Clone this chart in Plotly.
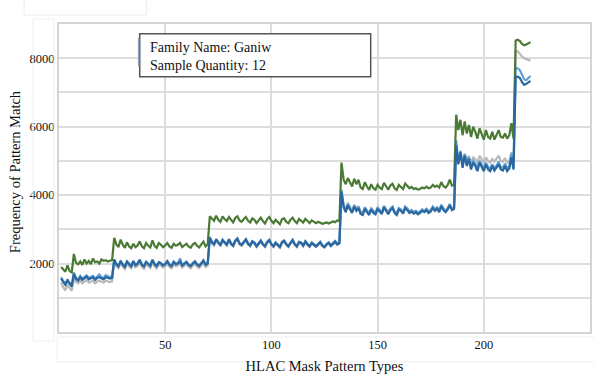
import plotly.graph_objects as go

# ---- data ----
green = [
    1900, 1820, 1760, 1950, 1780, 1740, 2280, 2020, 1980, 2060, 1960, 2120, 2000, 2080, 1980, 2150, 2040, 2060, 2000, 2120, 2080, 2100, 2060, 2080, 2100,
    2750, 2560, 2480, 2700, 2550, 2460, 2620, 2500, 2450, 2580, 2480, 2530, 2650, 2500, 2450, 2600, 2520, 2470, 2680, 2520,
    2460, 2600, 2550, 2480, 2530, 2600, 2500, 2460, 2580, 2520, 2550, 2600, 2480, 2520, 2580, 2500, 2460, 2560, 2600, 2520,
    2470, 2560, 2640, 2500, 2560,
    3380, 3300, 3250, 3400, 3280, 3220, 3380, 3300, 3240, 3360, 3260, 3200, 3340, 3380, 3260, 3220, 3300, 3360, 3250, 3200,
    3320, 3280, 3180, 3260, 3340, 3240, 3170, 3300, 3360, 3250, 3180, 3280, 3200, 3150, 3300, 3320, 3220, 3180, 3280, 3340,
    3240, 3180, 3300, 3260, 3200, 3310, 3240, 3180, 3260, 3220, 3180, 3220, 3200, 3160, 3180, 3200, 3170, 3190, 3230, 3210,
    3260, 3240,
    4950, 4450, 4320, 4500, 4380, 4250, 4480, 4320, 4450, 4220, 4180, 4380, 4250, 4150, 4320, 4200, 4160, 4300, 4220, 4180,
    4360, 4250, 4160, 4280, 4330, 4200, 4150, 4300, 4250, 4180, 4340, 4280, 4200, 4240, 4180, 4200, 4160, 4180, 4220, 4200,
    4250, 4200, 4220, 4300, 4240, 4280, 4220, 4380, 4260, 4220, 4300, 4450, 4280, 4300,
    6350, 5900, 6200, 5750, 6150, 5800, 6050, 5700, 6000, 5850, 5650, 5950, 5800, 5620, 5900, 5700, 5650, 5850, 5620, 5750,
    5900, 5700, 5680, 5800, 5650, 5750, 6100, 5650,
    8520, 8540, 8500, 8420, 8380, 8400, 8440, 8470,
]

dark_blue = [
    1560, 1450, 1380, 1500, 1400, 1330, 1700, 1550, 1500, 1600, 1520, 1580, 1620, 1540, 1560, 1600, 1520, 1580, 1600, 1560, 1540, 1600, 1580, 1560, 1580,
    2120, 1980, 1920, 2080, 1960, 1900, 2050, 1980, 1920, 2060, 1950, 1990, 2100, 1960, 1910, 2040, 1980, 1930, 2100, 1980,
    1920, 2030, 2000, 1940, 1980, 2060, 1960, 1920, 2040, 1980, 2000, 2060, 1940, 1980, 2040, 1960, 1920, 2000, 2050, 1970,
    1930, 2000, 2080, 1960, 2000,
    2750, 2620, 2560, 2700, 2600, 2540, 2680, 2600, 2550, 2700, 2580, 2520, 2660, 2720, 2580, 2540, 2640, 2700, 2580, 2520,
    2640, 2600, 2500, 2580, 2660, 2560, 2500, 2620, 2680, 2560, 2500, 2600, 2540, 2480, 2620, 2660, 2560, 2500, 2600, 2680,
    2560, 2500, 2620, 2600, 2520, 2640, 2560, 2500, 2600, 2540, 2500, 2560, 2620, 2520, 2480, 2560, 2600, 2520, 2580, 2640,
    2560, 2600,
    4100, 3650, 3500, 3700, 3580, 3480, 3660, 3540, 3620, 3450, 3420, 3600, 3500, 3420, 3580, 3480, 3440, 3600, 3520, 3450,
    3640, 3540, 3440, 3560, 3620, 3480, 3420, 3580, 3540, 3460, 3620, 3560, 3480, 3520, 3460, 3500, 3440, 3480, 3540, 3500,
    3560, 3480, 3520, 3620, 3540, 3600, 3500, 3680, 3560, 3500, 3580, 3700, 3560, 3600,
    5450, 4900, 5250, 4800, 5150, 4850, 5050, 4750, 4950, 4850, 4700, 4950, 4800, 4700, 4900, 4750, 4700, 4850, 4720, 4800,
    4900, 4750, 4720, 4850, 4700, 4780, 5100, 4750,
    7450, 7460, 7420, 7300, 7220, 7250, 7300, 7340,
]

light_blue = [
    1600, 1480, 1420, 1540, 1440, 1380, 1740, 1580, 1540, 1640, 1560, 1600, 1660, 1580, 1600, 1640, 1560, 1620, 1680, 1600, 1580, 1660, 1620, 1600, 1640,
    2100, 2000, 1940, 2060, 1980, 1920, 2070, 2000, 1940, 2080, 1970, 2010, 2120, 1980, 1930, 2060, 2000, 1950, 2120, 2000,
    1940, 2050, 2020, 1960, 2000, 2080, 1980, 1940, 2060, 2000, 2020, 2150, 1960, 2000, 2060, 1980, 1940, 2020, 2070, 1990,
    1950, 2020, 2100, 1980, 2020,
    2780, 2640, 2580, 2720, 2620, 2560, 2700, 2620, 2560, 2720, 2600, 2540, 2680, 2740, 2600, 2560, 2660, 2720, 2600, 2540,
    2660, 2620, 2520, 2600, 2680, 2580, 2520, 2640, 2700, 2580, 2520, 2620, 2560, 2500, 2640, 2680, 2580, 2520, 2620, 2700,
    2580, 2520, 2640, 2620, 2540, 2660, 2580, 2520, 2620, 2560, 2520, 2580, 2640, 2540, 2500, 2580, 2620, 2540, 2600, 2660,
    2580, 2620,
    4150, 3700, 3560, 3740, 3620, 3520, 3700, 3580, 3660, 3500, 3460, 3640, 3540, 3460, 3620, 3520, 3480, 3640, 3560, 3490,
    3680, 3580, 3480, 3600, 3660, 3520, 3460, 3620, 3580, 3500, 3660, 3600, 3520, 3560, 3500, 3540, 3480, 3520, 3580, 3540,
    3600, 3520, 3560, 3660, 3580, 3640, 3540, 3720, 3600, 3540, 3620, 3740, 3600, 3640,
    5600, 5000, 5300, 4900, 5200, 4950, 5100, 4850, 5000, 4920, 4800, 5000, 4880, 4780, 4950, 4820, 4780, 4900, 4800, 4860,
    4980, 4820, 4800, 4920, 4780, 4850, 5200, 4800,
    7720, 7700, 7650, 7520, 7380, 7360, 7420, 7480,
]

gray = [
    1450, 1300, 1220, 1380, 1280, 1200, 1600, 1460, 1420, 1500, 1420, 1480, 1520, 1440, 1460, 1500, 1420, 1480, 1500, 1460, 1440, 1500, 1480, 1460, 1480,
    2050, 1920, 1860, 2000, 1900, 1840, 1980, 1920, 1860, 2000, 1890, 1930, 2040, 1900, 1850, 1980, 1920, 1870, 2040, 1920,
    1860, 1970, 1940, 1880, 1920, 2000, 1900, 1860, 1980, 1920, 1940, 2000, 1880, 1920, 1980, 1900, 1860, 1940, 1990, 1910,
    1870, 1940, 2020, 1900, 1940,
    2720, 2580, 2520, 2680, 2640, 2520, 2660, 2580, 2520, 2680, 2560, 2500, 2640, 2700, 2560, 2520, 2620, 2680, 2560, 2500,
    2620, 2580, 2480, 2560, 2640, 2540, 2480, 2600, 2660, 2540, 2480, 2580, 2520, 2460, 2600, 2640, 2540, 2480, 2580, 2660,
    2540, 2480, 2600, 2580, 2500, 2620, 2540, 2480, 2580, 2520, 2480, 2540, 2600, 2500, 2460, 2540, 2580, 2500, 2560, 2620,
    2540, 2580,
    4000, 3720, 3600, 3780, 3660, 3560, 3720, 3600, 3680, 3520, 3480, 3640, 3560, 3480, 3620, 3540, 3500, 3640, 3560, 3500,
    3680, 3580, 3500, 3600, 3660, 3520, 3480, 3620, 3580, 3500, 3660, 3600, 3520, 3560, 3500, 3540, 3480, 3520, 3580, 3540,
    3600, 3520, 3560, 3660, 3580, 3640, 3540, 3700, 3600, 3540, 3620, 3720, 3600, 3640,
    5300, 5000, 5250, 4950, 5200, 5050, 5150, 4950, 5100, 5050, 4950, 5150, 5050, 4950, 5100, 5000, 4950, 5050, 4980, 5050,
    5150, 5000, 4980, 5080, 4950, 5000, 5250, 4950,
    8220, 8200, 8120, 8050, 8000, 7980, 7950, 7930,
]

x_tick_vals = [0, 50, 100, 150, 200, 250]
x_tick_text = ["", "50", "100", "150", "200", ""]
y_tick_vals = [0, 1000, 2000, 3000, 4000, 5000, 6000, 7000, 8000, 9000]
y_tick_text = ["", "", "2000", "", "4000", "", "6000", "", "8000", ""]

info_text = "Family Name: Ganiw<br>Sample Quantity: 12"
x_title = "HLAC Mask Pattern Types"
y_title = "Frequency of Pattern Match"

series = [
    ("gray", gray, "#b9b9b9"),
    ("light blue", light_blue, "#5d9fd8"),
    ("green", green, "#4a7a34"),
    ("dark blue", dark_blue, "#2b679f"),
]

fig = go.Figure()
for name, vals, col in series:
    fig.add_trace(go.Scatter(
        x=list(range(1, len(vals) + 1)), y=vals, mode="lines", name=name,
        line=dict(color=col, width=2.2), showlegend=False,
    ))

FONT = "Liberation Serif, Times New Roman, serif"

fig.update_layout(
    width=594, height=374,
    margin=dict(l=59, r=2, t=24, b=40),
    paper_bgcolor="white", plot_bgcolor="white",
    font=dict(family=FONT, color="#111111", size=12),
    xaxis=dict(
        range=[0, 250], tickvals=x_tick_vals, ticktext=x_tick_text,
        showgrid=True, gridcolor="#dddddd", gridwidth=1.5,
        showline=True, linecolor="#d4d4d4", linewidth=2, mirror=True,
        zeroline=False, ticks="",
        tickfont=dict(size=12.5, family=FONT),
        title=dict(text=x_title, font=dict(size=14.5, family=FONT), standoff=10),
    ),
    yaxis=dict(
        range=[0, 9000], tickvals=y_tick_vals, ticktext=y_tick_text,
        showgrid=True, gridcolor="#dddddd", gridwidth=1.5,
        showline=True, linecolor="#d4d4d4", linewidth=2, mirror=True,
        zeroline=False, ticks="",
        tickfont=dict(size=12.5, family=FONT),
    ),
    shapes=[
        # info box
        dict(type="rect", xref="paper", yref="paper", x0=0.152, x1=0.587, y0=0.829, y1=0.968,
             line=dict(color="#555555", width=1.5), fillcolor="white", layer="above"),
        # faint legend remnant
        dict(type="line", xref="paper", yref="paper", x0=0.150, x1=0.150, y0=0.862, y1=0.955,
             line=dict(color="#8fa6c6", width=1.5), layer="above"),
        # faint screenshot frames
        dict(type="rect", xref="paper", yref="paper", x0=-0.0657, x1=0.165, y0=1.029, y1=1.081,
             line=dict(color="#ececec", width=1)),
        dict(type="rect", xref="paper", yref="paper", x0=-0.0488, x1=-0.0094, y0=-0.029, y1=1.016,
             line=dict(color="#efefef", width=1)),
        dict(type="rect", xref="paper", yref="paper", x0=-0.00375, x1=1.015, y0=-0.0968, y1=-0.016,
             line=dict(color="#efefef", width=1)),
    ],
    annotations=[
        dict(text=info_text, xref="paper", yref="paper", x=0.167, y=0.895,
             xanchor="left", yanchor="middle", align="left", showarrow=False,
             font=dict(size=14, family=FONT, color="#111111")),
        dict(text=y_title, xref="paper", yref="paper", x=-0.083, y=0.522,
             xanchor="center", yanchor="middle", textangle=-90, showarrow=False,
             font=dict(size=14.5, family=FONT, color="#111111")),
    ],
)

fig.write_html("out.html")
